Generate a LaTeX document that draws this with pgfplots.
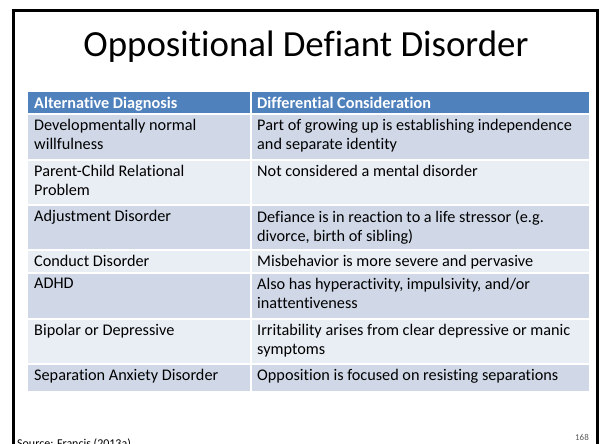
\documentclass[border=0pt]{standalone}
\usepackage{pgfplots}
\pgfplotsset{compat=1.18}
\usepackage{fontspec}
\setmainfont{Carlito}[Ligatures={NoCommon,NoContextual}]
\definecolor{hdr}{RGB}{79,129,189}
\definecolor{rowA}{RGB}{208,216,232}
\definecolor{rowB}{RGB}{233,237,244}
\definecolor{numgray}{RGB}{90,90,90}
\newcommand{\bodyfont}{\fontsize{16.3}{19.5}\selectfont}
\tikzset{cell/.style={anchor=north west,inner sep=0,align=left,font=\bodyfont}}
\begin{document}
\begin{tikzpicture}
\begin{axis}[width=602bp,height=444bp,scale only axis,
  xmin=0,xmax=602,ymin=0,ymax=444,y dir=reverse,hide axis,clip=false]
% cell backgrounds
\fill[hdr]  (28,92)  rectangle (589,114);
\fill[rowA] (28,114) rectangle (589,160);
\fill[rowB] (28,160) rectangle (589,205);
\fill[rowA] (28,205) rectangle (589,250);
\fill[rowB] (28,250) rectangle (589,273);
\fill[rowA] (28,273) rectangle (589,319);
\fill[rowB] (28,319) rectangle (589,364);
\fill[rowA] (28,364) rectangle (589,391);
% white grid
\draw[white,line width=1.5bp] (28,114) -- (589,114);
\draw[white,line width=1.5bp] (28,160) -- (589,160);
\draw[white,line width=1.5bp] (28,205) -- (589,205);
\draw[white,line width=1.5bp] (28,250) -- (589,250);
\draw[white,line width=1.5bp] (28,273) -- (589,273);
\draw[white,line width=1.5bp] (28,319) -- (589,319);
\draw[white,line width=1.5bp] (28,364) -- (589,364);
\draw[white,line width=1.5bp] (251,92) -- (251,391);
% frame
\draw[black,line width=3bp] (13.5,450) -- (13.5,10.5) -- (597,10.5) -- (597,450);
% title
\node[anchor=base,font=\fontsize{37}{44}\selectfont] at (306,57) {Oppositional Defiant Disorder};
% header
\node[anchor=base west,inner sep=0,text=white,font=\bodyfont\bfseries] at (34,108.5) {Alternative Diagnosis};
\node[anchor=base west,inner sep=0,text=white,font=\bodyfont\bfseries] at (257,108.5) {Differential Consideration};
% body
\node[cell] at (34,119) {Developmentally normal\\willfulness};
\node[cell] at (257,119) {Part of growing up is establishing independence\\and separate identity};
\node[cell] at (34,165) {Parent-Child Relational\\Problem};
\node[cell] at (257,165) {Not considered a mental disorder};
\node[cell] at (34,210) {Adjustment Disorder};
\node[cell] at (257,210) {Defiance is in reaction to a life stressor (e.g.\\divorce, birth of sibling)};
\node[cell] at (34,255) {Conduct Disorder};
\node[cell] at (257,255) {Misbehavior is more severe and pervasive};
\node[cell] at (34,278) {ADHD};
\node[cell] at (257,278) {Also has hyperactivity, impulsivity, and/or\\inattentiveness};
\node[cell] at (34,324) {Bipolar or Depressive};
\node[cell] at (257,324) {Irritability arises from clear depressive or manic\\symptoms};
\node[cell] at (34,369) {Separation Anxiety Disorder};
\node[cell] at (257,369) {Opposition is focused on resisting separations};
% footer
\node[anchor=base west,inner sep=0,font=\fontsize{12}{14}\selectfont] at (17,447) {Source: Francis (2013a)};
\node[anchor=base east,inner sep=0,text=numgray,font=\fontsize{9}{11}\selectfont] at (589,440) {168};
\end{axis}
\pgfresetboundingbox
\path (current axis.south west) rectangle (current axis.north east);
\end{tikzpicture}
\end{document}
